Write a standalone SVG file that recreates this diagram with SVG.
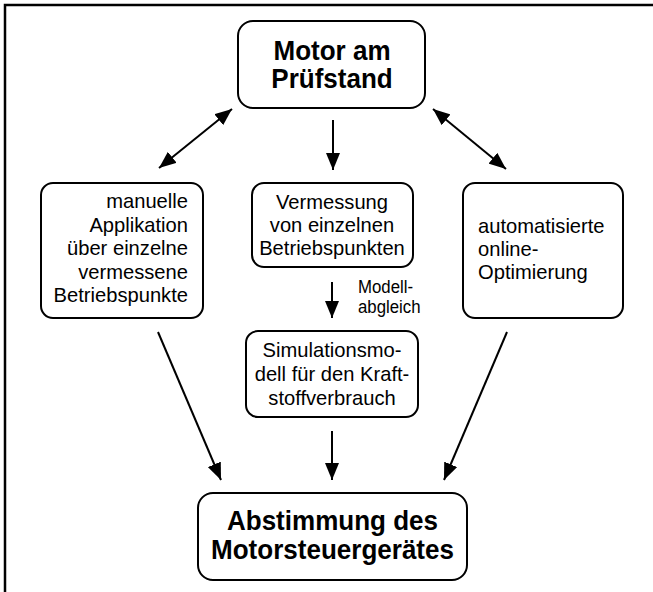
<svg xmlns="http://www.w3.org/2000/svg" width="653" height="592" viewBox="0 0 653 592">
<style>
.box{fill:#fff;stroke:#000;stroke-width:2}
.t{font-family:"Liberation Sans",Arial,sans-serif;font-size:21px;fill:#000}
.b{font-family:"Liberation Sans",Arial,sans-serif;font-size:28px;font-weight:bold;fill:#000}
.s{font-family:"Liberation Sans",Arial,sans-serif;font-size:17.5px;fill:#000}
.c{text-anchor:middle}
.r{text-anchor:end}
.e{stroke:#000;stroke-width:2;fill:none}
</style>
<defs>
<marker id="ah" markerUnits="userSpaceOnUse" markerWidth="18" markerHeight="14" refX="17" refY="7" orient="auto-start-reverse">
<path d="M0,0 L17,7 L0,14 z" fill="#000"/>
</marker>
</defs>
<rect x="5" y="5" width="700" height="700" fill="#fff" stroke="#000" stroke-width="2.5"/>
<g id="connectors">
<line class="e" x1="232" y1="109" x2="159" y2="168" marker-start="url(#ah)" marker-end="url(#ah)"/>
<line class="e" x1="433" y1="109" x2="506" y2="169" marker-start="url(#ah)" marker-end="url(#ah)"/>
<line class="e" x1="333" y1="120" x2="333" y2="170" marker-end="url(#ah)"/>
<line class="e" x1="332" y1="282" x2="332" y2="318" marker-end="url(#ah)"/>
<line class="e" x1="158" y1="332" x2="221" y2="480" marker-end="url(#ah)"/>
<line class="e" x1="507" y1="332" x2="444" y2="480" marker-end="url(#ah)"/>
<line class="e" x1="332" y1="431" x2="332" y2="480" marker-end="url(#ah)"/>
</g>
<g id="motor">
<rect class="box" x="238" y="21" width="187" height="87" rx="15"/>
<text class="b c" transform="translate(332,60) scale(0.93,1)">Motor am</text>
<text class="b c" transform="translate(332,88) scale(0.93,1)">Prüfstand</text>
</g>
<g id="manuell">
<rect class="box" x="41" y="183" width="162" height="135" rx="12"/>
<text class="t r" transform="translate(188,208) scale(0.96,1)">manuelle</text>
<text class="t r" transform="translate(188,231.5) scale(0.96,1)">Applikation</text>
<text class="t r" transform="translate(188,255) scale(0.96,1)">über einzelne</text>
<text class="t r" transform="translate(188,278.5) scale(0.96,1)">vermessene</text>
<text class="t r" transform="translate(188,302) scale(0.96,1)">Betriebspunkte</text>
</g>
<g id="vermessung">
<rect class="box" x="252" y="183" width="161" height="84" rx="12"/>
<text class="t c" transform="translate(332,209) scale(0.96,1)">Vermessung</text>
<text class="t c" transform="translate(332,232) scale(0.96,1)">von einzelnen</text>
<text class="t c" transform="translate(332,255) scale(0.96,1)">Betriebspunkten</text>
</g>
<g id="online">
<rect class="box" x="463" y="183" width="160" height="135" rx="12"/>
<text class="t" transform="translate(478,233) scale(0.96,1)">automatisierte</text>
<text class="t" transform="translate(478,256) scale(0.96,1)">online-</text>
<text class="t" transform="translate(478,279) scale(0.96,1)">Optimierung</text>
</g>
<g id="label-modellabgleich">
<text class="s" transform="translate(358,293) scale(0.96,1)">Modell-</text>
<text class="s" transform="translate(358,313) scale(0.96,1)">abgleich</text>
</g>
<g id="simulation">
<rect class="box" x="246" y="331" width="172" height="86" rx="12"/>
<text class="t c" transform="translate(332,357) scale(0.96,1)">Simulationsmo-</text>
<text class="t c" transform="translate(332,381) scale(0.96,1)">dell für den Kraft-</text>
<text class="t c" transform="translate(332,405) scale(0.96,1)">stoffverbrauch</text>
</g>
<g id="abstimmung">
<rect class="box" x="198" y="493" width="269" height="87" rx="15"/>
<text class="b c" transform="translate(332.5,530) scale(0.93,1)">Abstimmung des</text>
<text class="b c" transform="translate(332.5,559) scale(0.93,1)">Motorsteuergerätes</text>
</g>
</svg>
